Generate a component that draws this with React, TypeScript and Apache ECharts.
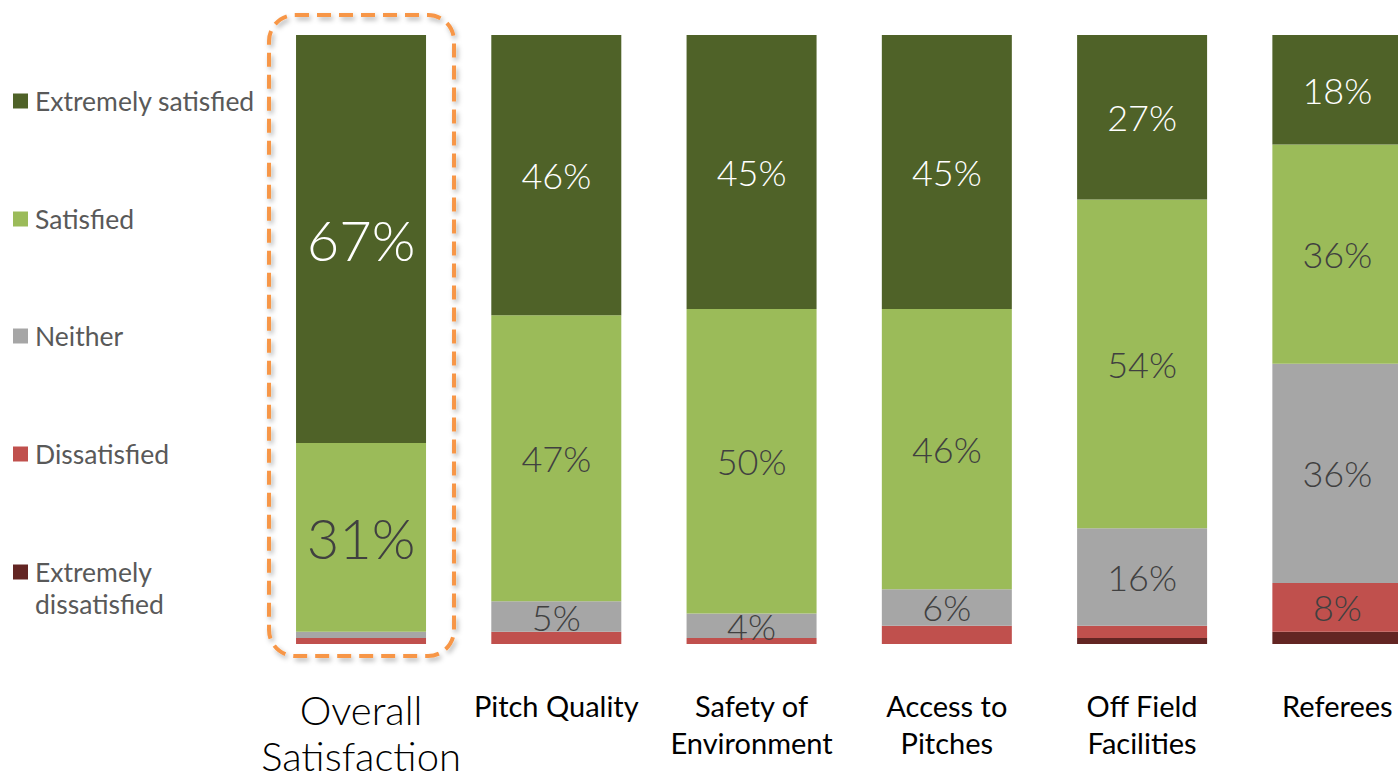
import { useEffect, useRef } from 'react';
import * as echarts from 'echarts';

const categories = [
  'Overall\nSatisfaction',
  'Pitch Quality',
  'Safety of\nEnvironment',
  'Access to\nPitches',
  'Off Field\nFacilities',
  'Referees',
];
const seriesNames = ['Extremely dissatisfied', 'Dissatisfied', 'Neither', 'Satisfied', 'Extremely satisfied'];
const legendOrder = [4, 3, 2, 1, 0];
const legendLabels = ['Extremely satisfied', 'Satisfied', 'Neither', 'Dissatisfied', 'Extremely\ndissatisfied'];
const extremelyDissatisfied = [0, 0, 0, 0, 1, 2];
const dissatisfied = [1, 2, 1, 3, 2, 8];
const neither = [1, 5, 4, 6, 16, 36];
const satisfied = [31, 47, 50, 46, 54, 36];
const extremelySatisfied = [67, 46, 45, 45, 27, 18];
const seriesValues = [extremelyDissatisfied, dissatisfied, neither, satisfied, extremelySatisfied];
const colors = ['#632523', '#C0504D', '#A6A6A6', '#9BBB59', '#4F6228'];
const labelColors = ['#404040', '#404040', '#404040', '#404040', '#FFFFFF'];

const FONT = 'Lato, "Open Sans", sans-serif';

export default function App() {
  const ref = useRef<HTMLDivElement>(null);
  useEffect(() => {
    if (!ref.current) return;
    const chart = echarts.init(ref.current, null, { renderer: 'svg' });
    const series = seriesValues.map((vals, si) => ({
      name: seriesNames[si],
      type: 'bar',
      stack: 'total',
      barWidth: 130,
      itemStyle: { color: colors[si] },
      label: {
        show: true,
        position: 'inside',
        color: labelColors[si],
        fontFamily: FONT,
        fontSize: 36,
        fontWeight: 300,
        formatter: (p: any) => (p.value >= 4 ? p.value + '%' : ''),
      },
      data: vals.map((v, i) => (i === 0 ? { value: v, label: { fontSize: 56 } } : v)),
    }));
    chart.setOption({
      animation: false,
      grid: {
        left: 263.4,
        right: 0,
        top: 35,
        bottom: 135,
        containLabel: false,
        outerBoundsMode: 'none',
      },
      xAxis: {
        type: 'category',
        data: categories,
        axisLine: { show: false },
        axisTick: { show: false },
        axisLabel: {
          interval: 0,
          margin: 43,
          formatter: (value: string, index: number) =>
            value
              .split('\n')
              .map((l) => (index === 0 ? `{big|${l}}` : `{n|${l}}`))
              .join('\n'),
          rich: {
            big: { fontSize: 40, lineHeight: 46, color: '#000', fontFamily: FONT, fontWeight: 300 },
            n: { fontSize: 29, lineHeight: 37, color: '#000', fontFamily: FONT },
          },
        },
      },
      yAxis: { type: 'value', min: 0, max: 100, show: false },
      series,
    });
    const cx = chart.convertToPixel({ xAxisIndex: 0 }, 0) as number;
    const yTop = chart.convertToPixel({ yAxisIndex: 0 }, 100) as number;
    const yBot = chart.convertToPixel({ yAxisIndex: 0 }, 0) as number;
    const legendY = [101, 219, 336, 454, 572];
    const graphic: any[] = [
      {
        type: 'rect',
        shape: { x: cx - 92, y: yTop - 20, width: 185, height: yBot - yTop + 32, r: 26 },
        style: {
          fill: 'none',
          stroke: '#F79646',
          lineWidth: 4,
          lineDash: [14, 8],
          shadowBlur: 5,
          shadowColor: 'rgba(0,0,0,0.3)',
          shadowOffsetX: 2,
          shadowOffsetY: 3,
        },
      },
    ];
    legendOrder.forEach((si, k) => {
      graphic.push({
        type: 'rect',
        shape: { x: 13, y: legendY[k] - 7.5, width: 15, height: 15 },
        style: { fill: colors[si] },
      });
      const multi = legendLabels[k].includes('\n');
      graphic.push({
        type: 'text',
        x: 35,
        y: multi ? legendY[k] - 16 : legendY[k],
        style: {
          text: legendLabels[k],
          fill: '#595959',
          fontSize: 26.5,
          fontFamily: FONT,
          lineHeight: 32,
          verticalAlign: multi ? 'top' : 'middle',
          align: 'left',
        },
      });
    });
    chart.setOption({ graphic });
    return () => chart.dispose();
  }, []);
  return (
    <div
      style={{ position: 'fixed', left: 0, top: 0, width: 1398, height: 779, overflow: 'hidden', background: '#fff' }}
    >
      <div ref={ref} style={{ position: 'absolute', left: 0, top: 0, width: 1435, height: 779 }} />
    </div>
  );
}
